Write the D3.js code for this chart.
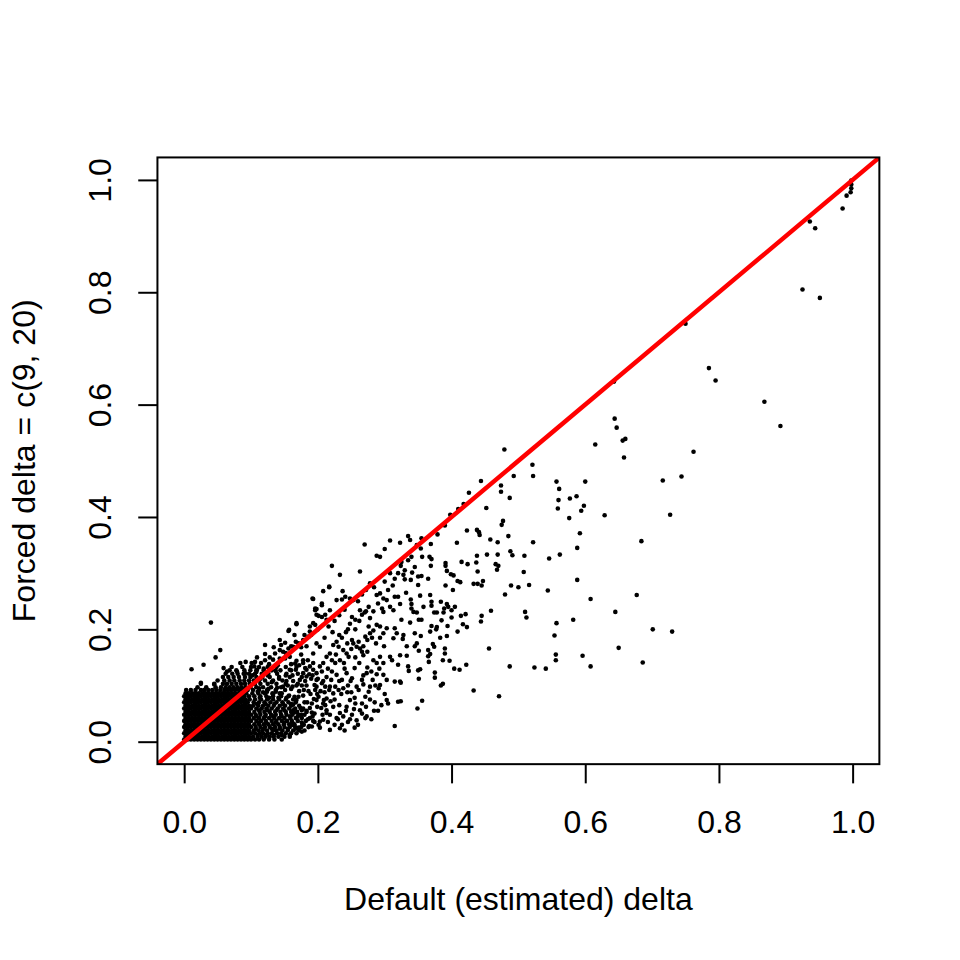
<!DOCTYPE html>
<html>
<head>
<meta charset="utf-8">
<script src="https://cdnjs.cloudflare.com/ajax/libs/d3/7.8.5/d3.min.js"></script>
<style>
  body { margin: 0; background: #fff; }
  svg { display: block; }
  text { font-family: "Liberation Sans", Arial, Helvetica, sans-serif; }
</style>
</head>
<body>
<div id="chart"></div>
<script>
// axis ticks and titles
const xTicks = [0, 0.2, 0.4, 0.6, 0.8, 1.0];
const yTicks = [0, 0.2, 0.4, 0.6, 0.8, 1.0];
const xTitle = "Default (estimated) delta";
const yTitle = "Forced delta = c(9, 20)";

// reference line y = a + b*x
const ablineA = 0;
const ablineB = 1;

// dense core near the origin, one row of x values per y value
const coreY = [0.004, 0.009, 0.015, 0.020, 0.026, 0.031, 0.037, 0.042, 0.048, 0.053, 0.059, 0.064,
               0.070, 0.075, 0.081, 0.086, 0.092, 0.097, 0.103, 0.109, 0.115, 0.121, 0.127, 0.133];
const coreX = [
  [0,.005,.01,.015,.02,.025,.03,.035,.04,.045,.05,.055,.06,.065,.07,.075,.08,.085,.09,.095,.1,.106,.112,.119,.127,.135,.146],
  [.002,.007,.012,.017,.022,.027,.032,.037,.042,.047,.052,.057,.062,.067,.072,.077,.082,.087,.092,.097,.103,.110,.116,.122,.128,.134,.141,.150,.158],
  [0,.005,.01,.015,.02,.025,.03,.035,.04,.045,.05,.055,.06,.065,.07,.075,.08,.085,.09,.095,.1,.106,.113,.118,.125,.131,.139,.145,.152,.160,.168],
  [.002,.007,.012,.017,.022,.027,.032,.037,.042,.047,.052,.057,.062,.067,.072,.077,.082,.087,.092,.097,.104,.111,.117,.124,.133,.138,.147,.155,.163,.172,.180],
  [0,.005,.01,.015,.02,.025,.03,.035,.04,.045,.05,.055,.06,.065,.07,.075,.08,.085,.09,.095,.1,.107,.114,.121,.128,.136,.143,.150,.158,.166,.175,.186],
  [.002,.007,.012,.017,.022,.027,.032,.037,.042,.047,.052,.057,.062,.067,.072,.077,.082,.087,.092,.097,.105,.112,.119,.126,.133,.141,.149,.157,.165,.177],
  [0,.005,.01,.015,.02,.025,.03,.035,.04,.045,.05,.055,.06,.065,.07,.075,.08,.085,.09,.095,.1,.108,.115,.122,.131,.138,.146,.154,.161,.170,.182,.193],
  [.002,.007,.012,.017,.022,.027,.032,.037,.042,.047,.052,.057,.062,.067,.072,.077,.082,.087,.092,.097,.104,.112,.119,.127,.135,.142,.150,.159,.168,.176,.188],
  [0,.005,.01,.015,.02,.025,.03,.035,.04,.045,.05,.055,.06,.065,.07,.075,.08,.085,.09,.095,.1,.107,.114,.122,.130,.137,.145,.153,.162,.171,.180],
  [.002,.007,.012,.017,.022,.027,.032,.037,.042,.047,.052,.057,.062,.067,.072,.077,.082,.087,.092,.097,.105,.113,.120,.128,.136,.144,.152,.160,.169,.183],
  [0,.005,.01,.015,.02,.025,.03,.035,.04,.045,.05,.055,.06,.065,.07,.075,.08,.085,.09,.095,.1,.108,.116,.123,.131,.140,.148,.157,.166,.178],
  [.002,.007,.012,.017,.022,.027,.032,.037,.042,.047,.052,.057,.062,.067,.072,.077,.082,.087,.092,.097,.103,.111,.118,.126,.134,.143,.151,.160,.172],
  [0,.005,.01,.015,.02,.025,.03,.035,.04,.045,.05,.055,.06,.065,.07,.075,.08,.085,.09,.095,.104,.112,.120,.129,.138,.147,.156,.167],
  [.002,.007,.012,.017,.022,.027,.032,.037,.042,.047,.052,.057,.062,.067,.072,.077,.082,.087,.092,.098,.106,.115,.124,.133,.142,.152,.163],
  [0,.005,.01,.015,.02,.025,.03,.035,.04,.045,.05,.055,.06,.065,.07,.075,.08,.085,.09,.097,.105,.114,.123,.133,.145,.156],
  [.002,.007,.012,.017,.022,.027,.032,.037,.042,.047,.052,.057,.062,.067,.072,.077,.082,.087,.093,.102,.111,.121,.132,.143],
  [.003,.010,.017,.025,.030,.036,.042,.048,.054,.060,.065,.070,.076,.082,.088,.095,.103,.112,.124,.137],
  [.020,.033,.047,.055,.062,.068,.074,.080,.086,.092,.099,.108,.118,.130,.145],
  [.025,.045,.058,.064,.071,.078,.085,.091,.098,.106,.114,.125,.138,.152],
  [.050,.060,.068,.075,.083,.090,.097,.104,.112,.121,.133,.147],
  [.058,.066,.074,.082,.091,.099,.108,.117,.128,.142,.158],
  [.062,.072,.080,.089,.097,.106,.116,.126,.139,.153],
  [.068,.078,.090,.099,.108,.119,.131,.144,.160],
  [.071,.087,.100,.112,.125,.138,.152,.168]
];

// medium density band, x roughly 0.0 - 0.33
const midPts = [
  [.040,.212],[.054,.163],[.047,.150],[.029,.137],[.011,.129],[.025,.105],[.045,.102],[.092,.142],
  [.109,.150],[.121,.172],[.121,.156],[.121,.145],[.156,.197],[.168,.209],[.151,.176],[.143,.163],
  [.148,.160],[.084,.140],[.101,.140],[.059,.131],[.064,.125],[.167,.178],[.196,.237],[.206,.243],
  [.198,.226],[.211,.226],[.213,.217],[.193,.211],[.106,.142],[.109,.128],[.079,.125],[.091,.122],
  [.136,.157],[.143,.148],[.168,.144],[.178,.145],[.183,.128],[.193,.140],[.198,.110],[.206,.104],
  [.211,.098],[.201,.080],[.209,.074],[.191,.027],[.201,.030],[.208,.039],[.213,.051],[.176,.018],
  [.270,.351],[.308,.358],[.221,.313],[.263,.303],[.288,.331],[.293,.329],[.300,.343],[.233,.297],
  [.193,.254],[.208,.268],[.217,.275],[.237,.268],[.241,.258],[.236,.253],[.228,.252],[.206,.246],
  [.198,.236],[.218,.234],[.206,.222],[.196,.208],[.188,.196],[.186,.187],[.178,.181],[.171,.175],
  [.163,.169],[.156,.166],[.157,.199],[.143,.181],[.151,.148],[.158,.151],
  [.263,.234],[.266,.226],[.272,.232],[.278,.220],[.251,.222],[.256,.217],[.288,.261],[.293,.264],
  [.298,.255],[.303,.252],[.308,.240],[.313,.234],[.290,.246],[.296,.237],[.298,.231],[.315,.258],
  [.320,.258],[.278,.282],[.284,.275],[.248,.255],[.253,.252],[.276,.205],[.283,.198],[.288,.208],
  [.293,.205],[.298,.193],[.303,.202],[.315,.202],[.318,.193],[.313,.184],[.278,.193],[.271,.187],
  [.274,.181],[.263,.166],[.266,.160],[.268,.154],[.258,.169],[.251,.181],[.253,.175],[.243,.157],
  [.246,.151],[.238,.163],[.228,.178],[.223,.172],[.231,.169],[.218,.157],[.213,.151],[.221,.145],
  [.208,.140],[.203,.169],[.198,.175],[.193,.157],[.283,.145],[.288,.140],[.293,.151],[.308,.151],
  [.311,.145],[.320,.137],[.298,.119],[.303,.110],[.315,.107],[.323,.107],[.293,.101],[.291,.095],
  [.273,.122],[.266,.110],[.258,.098],[.278,.098],[.276,.089],[.271,.080],[.266,.068],[.256,.068],
  [.263,.056],[.271,.042],[.248,.074],[.243,.062],[.233,.051],[.228,.042],[.303,.074],[.305,.068],
  [.320,.071],[.315,.028],[.290,.055],[.218,.021],[.233,.024],[.203,.036],[.213,.056],[.218,.048],
  [.223,.062],[.251,.048],[.258,.038],[.273,.045],[.243,.122],[.251,.113],[.236,.110],[.228,.119],
  [.231,.092],[.223,.086],[.218,.098],[.198,.074],[.191,.068],[.208,.068],[.213,.077],[.178,.122],
  [.183,.116],[.173,.110],[.188,.134],[.193,.128],[.198,.122],[.203,.134],
  [.168,.211],[.192,.255],[.196,.234],[.201,.224],[.217,.276],
  [.152,.118],[.158,.128],[.163,.108],[.170,.121],[.176,.100],[.181,.131],[.186,.090],[.190,.112],
  [.195,.101],[.199,.085],[.166,.139],[.160,.138],[.185,.145],[.175,.155],[.188,.060],[.180,.070],
  [.195,.050],[.185,.040],[.192,.045],[.172,.090],[.165,.080],[.178,.082],[.155,.100],[.160,.094],
  [.170,.103],[.183,.100],[.196,.092],[.205,.060],[.210,.088],[.220,.110],[.225,.075],[.235,.085],
  [.240,.130],[.245,.100],[.250,.088],[.255,.131],[.262,.140],[.268,.102],[.282,.110],[.288,.120],
  [.238,.045],[.245,.035],[.240,.020],[.255,.025],[.280,.040],[.285,.070],[.300,.085],[.232,.065],
  [.215,.130],[.226,.140],[.210,.185],[.222,.195],[.232,.190],[.245,.200],[.180,.190],[.188,.205],
  [.175,.168]
];

// extra points filling the busy band between the core and x = 0.33
const bandPts = [
  [.102,.118],[.108,.124],[.114,.112],[.119,.130],[.125,.118],[.131,.106],[.137,.126],[.142,.112],
  [.148,.098],[.153,.108],[.112,.095],[.118,.088],[.126,.094],[.133,.084],[.139,.096],[.146,.086],
  [.151,.092],[.157,.082],[.162,.118],[.168,.100],[.105,.134],[.115,.140],[.127,.138],[.133,.146],
  [.140,.136],
  [.162,.030],[.167,.042],[.171,.025],[.175,.048],[.179,.030],[.183,.055],[.187,.028],[.191,.052],
  [.195,.035],[.199,.062],[.203,.025],[.207,.048],[.211,.065],[.215,.035],[.219,.072],[.163,.066],
  [.168,.074],[.174,.060],[.179,.092],[.184,.070],[.189,.085],[.194,.076],[.198,.098],[.204,.090],
  [.208,.108],[.213,.115],[.217,.092],[.221,.125],[.165,.052],[.171,.080],[.176,.115],[.181,.108],
  [.187,.120],[.162,.098],[.167,.128],[.172,.136],[.178,.140],[.192,.118],[.200,.112],[.206,.125],
  [.225,.030],[.230,.040],[.236,.030],[.242,.055],[.248,.040],[.254,.058],[.260,.030],[.266,.050],
  [.272,.062],[.278,.075],[.284,.055],[.295,.065],[.226,.098],[.232,.108],[.238,.095],[.244,.088],
  [.249,.108],[.255,.078],[.261,.092],[.268,.118],[.274,.132],[.280,.125],[.286,.100],[.292,.130],
  [.298,.140],[.227,.155],[.233,.145],[.239,.140],[.244,.175],[.250,.165],[.256,.150],[.261,.178],
  [.268,.170],[.274,.160],[.281,.185],[.287,.175],[.293,.185],[.299,.170],[.236,.185],[.242,.195],
  [.248,.210],[.256,.200],[.262,.215],[.270,.230],[.276,.240],[.283,.232],[.260,.250],[.266,.262],
  [.272,.270],[.300,.285],[.308,.300],[.315,.290],[.305,.270],[.312,.278],[.320,.300],[.325,.320],
  [.330,.305],
  [.128,.150],[.134,.168],[.145,.172],[.152,.158],[.160,.170],[.165,.190],[.183,.170],[.190,.190],
  [.200,.200],[.216,.205],[.225,.215],[.232,.225],[.240,.235],
  [.110,.012],[.122,.012],[.134,.012],[.146,.012],[.158,.012],
  [.107,.023],[.119,.023],[.131,.023],[.143,.023],[.155,.023],[.167,.023],
  [.111,.034],[.123,.034],[.137,.034],[.150,.034],[.162,.034],[.176,.034],
  [.108,.045],[.121,.045],[.133,.045],[.146,.045],[.158,.045],[.170,.045],
  [.112,.056],[.125,.056],[.138,.056],[.150,.056],[.163,.056],[.176,.056],
  [.109,.067],[.122,.067],[.135,.067],[.148,.067],[.160,.067],
  [.113,.078],[.127,.078],[.141,.078],[.153,.078],
  [.110,.089],[.124,.089],[.137,.089]
];

// sparse points, x above ~0.32
const farPts = [
  [.998,.999],[.998,.992],[.998,.985],[.997,.978],[.991,.972],[.985,.949],[.936,.926],[.944,.914],
  [.925,.805],[.951,.790],[.750,.744],[.785,.665],[.795,.643],[.868,.605],[.892,.562],[.643,.641],
  [.644,.575],[.647,.559],[.656,.536],[.660,.539],[.615,.529],
  [.658,.506],[.762,.516],[.479,.520],[.521,.493],[.522,.473],[.493,.473],[.444,.464],[.557,.463],
  [.600,.463],[.716,.465],[.744,.472],[.561,.450],[.474,.456],[.474,.445],[.426,.443],[.560,.430],
  [.577,.433],[.587,.437],[.598,.420],[.594,.411],[.559,.415],[.576,.398],[.629,.403],[.727,.404],
  [.487,.434],[.452,.416],[.418,.423],[.410,.414],[.477,.393],[.475,.386],[.485,.366],[.522,.355],
  [.592,.371],[.588,.345],[.684,.357],[.562,.333],[.546,.326],[.509,.331],[.491,.332],[.488,.339],
  [.469,.333],[.453,.333],[.438,.331],[.469,.355],[.458,.360],[.441,.373],[.438,.377],[.442,.368],
  [.423,.376],[.408,.354],[.379,.369],[.369,.352],[.390,.385],[.398,.404],
  [.508,.302],[.516,.279],[.500,.275],[.489,.278],[.480,.262],[.544,.269],[.588,.288],[.608,.254],
  [.645,.231],[.677,.261],[.582,.217],[.557,.211],[.554,.189],[.510,.231],[.512,.221],[.459,.233],
  [.445,.224],[.444,.214],[.701,.200],[.730,.196],[.650,.167],[.596,.153],[.608,.134],[.556,.155],
  [.556,.145],[.541,.130],[.524,.132],[.487,.134],[.456,.166],[.686,.141],[.471,.081],[.433,.091],
  [.422,.137],[.404,.130],[.412,.128],[.397,.144],[.387,.145],[.375,.123],[.375,.114],[.384,.100],
  [.387,.103],[.365,.152],[.368,.156],[.390,.166],[.390,.157],[.366,.142],[.350,.127],[.353,.129],
  [.351,.112],[.356,.073],[.349,.059],[.335,.134],[.336,.126],[.324,.105],[.324,.072],[.323,.154],
  [.323,.354],[.335,.366],[.338,.359],[.348,.350],[.354,.344],[.340,.329],[.335,.323],[.356,.329],
  [.367,.329],[.370,.325],[.369,.313],[.324,.313],[.345,.311],[.341,.301],[.328,.297],[.330,.289],
  [.339,.288],[.350,.294],[.355,.295],[.365,.290],[.391,.318],[.391,.313],[.393,.304],[.399,.298],
  [.403,.296],[.409,.286],[.413,.284],[.415,.320],[.424,.316],[.437,.319],[.439,.303],[.447,.286],
  [.433,.281],[.439,.281],[.445,.278],[.466,.316],[.470,.313],[.468,.306],[.402,.270],[.391,.278],
  [.332,.265],[.350,.279],[.368,.261],[.353,.260],[.323,.245],[.339,.253],[.340,.245],[.358,.240],
  [.370,.249],[.370,.242],[.384,.249],[.393,.245],[.395,.240],[.389,.237],[.400,.234],[.405,.240],
  [.374,.230],[.378,.230],[.388,.230],[.343,.231],[.348,.230],[.340,.237],[.325,.217],[.338,.212],
  [.351,.217],[.355,.217],[.385,.216],[.400,.221],[.414,.224],[.421,.227],[.417,.209],[.423,.204],
  [.370,.206],[.378,.204],[.377,.200],[.394,.206],[.409,.196],[.345,.193],[.368,.196],[.328,.190],
  [.327,.183],[.354,.188],[.383,.185],[.393,.188],[.372,.174],[.374,.169],[.348,.175],[.345,.170],
  [.333,.170],[.333,.153],[.351,.162],[.365,.163],[.355,.362]
];

// ---- layout (R base graphics, 960px at 192 dpi) ----
const W = 960, H = 960;
const lh = 38.4;                 // one margin line
const fontPx = 32;
const boxL = 4.1 * lh, boxR = W - 2.1 * lh;
const boxT = 4.1 * lh, boxB = H - 5.1 * lh;

const x = d3.scaleLinear().domain([-0.04, 1.04]).range([boxL, boxR]);
const y = d3.scaleLinear().domain([-0.04, 1.04]).range([boxB, boxT]);

const svg = d3.select("#chart").append("svg")
    .attr("width", W)
    .attr("height", H);

svg.append("defs").append("clipPath")
    .attr("id", "plotclip")
  .append("rect")
    .attr("x", boxL)
    .attr("y", boxT)
    .attr("width", boxR - boxL)
    .attr("height", boxB - boxT);

// collect all points
const points = [];
coreY.forEach((yy, i) => coreX[i].forEach(xx => points.push([xx, yy])));
midPts.forEach(p => points.push(p));
bandPts.forEach(p => points.push(p));
farPts.forEach(p => points.push(p));

const plot = svg.append("g").attr("clip-path", "url(#plotclip)");

plot.selectAll("circle")
    .data(points)
    .enter()
    .append("circle")
    .attr("cx", d => x(d[0]))
    .attr("cy", d => y(d[1]))
    .attr("r", 2.3)
    .attr("fill", "#000");

// abline over the points
const xd = x.domain();
plot.append("line")
    .attr("x1", x(xd[0]))
    .attr("y1", y(ablineA + ablineB * xd[0]))
    .attr("x2", x(xd[1]))
    .attr("y2", y(ablineA + ablineB * xd[1]))
    .attr("stroke", "#ff0000")
    .attr("stroke-width", 4.5);

// axes
const fmt = d3.format(".1f");

svg.append("g")
    .attr("transform", `translate(0,${boxB})`)
    .call(d3.axisBottom(x).tickValues(xTicks).tickFormat(fmt).tickSize(0.5 * lh).tickSizeOuter(0))
    .call(g => g.select(".domain").remove())
    .call(g => g.selectAll(".tick line").attr("stroke", "#000").attr("stroke-width", 2))
    .call(g => g.selectAll(".tick text")
        .attr("y", 1.8 * lh)
        .attr("dy", 0)
        .attr("fill", "#000")
        .style("font-size", fontPx + "px")
        .style("font-family", '"Liberation Sans", Arial, Helvetica, sans-serif'));

svg.append("g")
    .attr("transform", `translate(${boxL},0)`)
    .call(d3.axisLeft(y).tickValues(yTicks).tickFormat(fmt).tickSize(0.5 * lh).tickSizeOuter(0))
    .call(g => g.select(".domain").remove())
    .call(g => g.selectAll(".tick line").attr("stroke", "#000").attr("stroke-width", 2))
    .call(g => g.selectAll(".tick text")
        .attr("x", 0)
        .attr("dy", 0)
        .attr("text-anchor", "middle")
        .attr("transform", `translate(${-1.2 * lh},0) rotate(-90)`)
        .attr("fill", "#000")
        .style("font-size", fontPx + "px")
        .style("font-family", '"Liberation Sans", Arial, Helvetica, sans-serif'));

// box
svg.append("rect")
    .attr("x", boxL)
    .attr("y", boxT)
    .attr("width", boxR - boxL)
    .attr("height", boxB - boxT)
    .attr("fill", "none")
    .attr("stroke", "#000")
    .attr("stroke-width", 2);

// titles
svg.append("text")
    .attr("x", (boxL + boxR) / 2)
    .attr("y", boxB + 3.8 * lh)
    .attr("text-anchor", "middle")
    .style("font-size", fontPx + "px")
    .text(xTitle);

svg.append("text")
    .attr("transform", `translate(${boxL - 3.2 * lh},${(boxT + boxB) / 2}) rotate(-90)`)
    .attr("text-anchor", "middle")
    .style("font-size", fontPx + "px")
    .text(yTitle);
</script>
</body>
</html>
